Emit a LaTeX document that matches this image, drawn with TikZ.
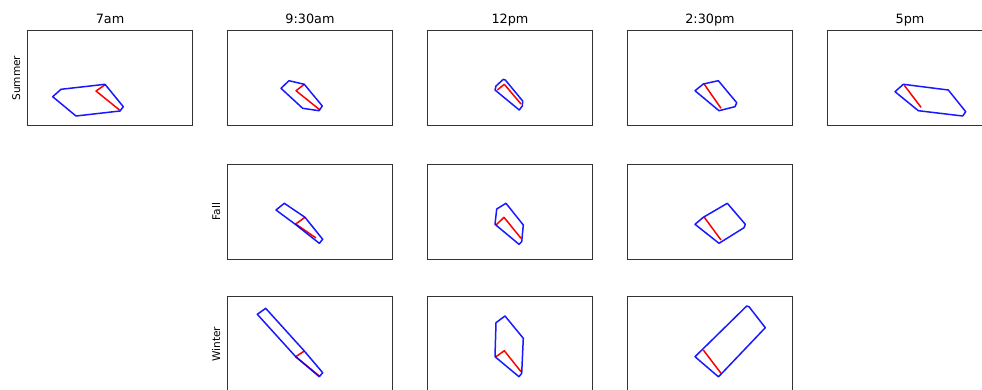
\documentclass[tikz,border=0pt]{standalone}
\usepackage{fontspec}
\setmainfont{DejaVu Sans}
\begin{document}
\begin{tikzpicture}[x=1pt,y=-1pt,
  frame/.style={draw=black!80,line width=0.8pt},
  shade/.style={draw=blue,line width=1.5pt,line join=round,opacity=0.9},
  bldg/.style={draw=red,line width=1.5pt,line join=round},
  ttl/.style={anchor=base,inner sep=0pt,font=\fontsize{12.8}{14}\selectfont},
  ylab/.style={anchor=base,rotate=90,inner sep=0pt,font=\fontsize{10.6}{12}\selectfont}]
\useasboundingbox (0,0) rectangle (982,389);
\clip (0,0) rectangle (982,389);
% frames
\foreach \c/\r in {27.3/30.7,227.3/30.7,427.3/30.7,627.3/30.7,827.3/30.7,
                   227.3/164.3,427.3/164.3,627.3/164.3,
                   227.3/296.7,427.3/296.7,627.3/296.7}
  \draw[frame] (\c,\r) rectangle ++(165.4,95);
% titles
\node[ttl] (t1) at (110,23) {7am};
\node[ttl] (t2) at (310,23) {9:30am};
\node[ttl] (t3) at (510,23) {12pm};
\node[ttl] (t4) at (710,23) {2:30pm};
\node[ttl] (t5) at (910,23) {5pm};
\node[ylab] (l1) at (20,78.2) {Summer};
\node[ylab] (l2) at (220,211.8) {Fall};
\node[ylab] (l3) at (220,344.2) {Winter};
% Summer 7am
\draw[bldg] (105,84.8) -- (96,91) -- (119.5,110);
\draw[shade] (52.7,96.7) -- (61,89.3) -- (105,84.3) -- (123.3,106.7) -- (120,111) -- (76,116) -- cycle;
% Summer 9:30am
\draw[bldg] (304.3,84.3) -- (296,90.7) -- (320,110);
\draw[shade] (281,88.3) -- (289,80.7) -- (304.3,84.3) -- (322.3,106) -- (319,110.7) -- (302.7,108.3) -- cycle;
% Summer 12pm
\draw[bldg] (497.3,90) -- (504.3,84.3) -- (521,104);
\draw[shade] (495,90) -- (496,86) -- (503.3,79.3) -- (505.3,80) -- (522.7,101) -- (522.3,106) -- (519.3,110) -- cycle;
% Summer 2:30pm
\draw[bldg] (704.3,84.3) -- (721,108.3);
\draw[shade] (695,90.7) -- (703.3,84) -- (718.3,80.7) -- (736.7,102.7) -- (735,106.7) -- (719,110.7) -- cycle;
% Summer 5pm
\draw[bldg] (904.3,85.3) -- (921,107.3);
\draw[shade] (895,91.7) -- (903.3,84.3) -- (948.3,90) -- (965.7,111.7) -- (962.7,116) -- (918.3,110.7) -- cycle;
% Fall 9:30am
\draw[bldg] (305,217.3) -- (295.7,224) -- (316,238);
\draw[shade] (276,210) -- (284.3,203.3) -- (305,217.3) -- (322.7,239.3) -- (319.3,243.3) -- (295.7,224.6) -- cycle;
% Fall 12pm
\draw[bldg] (496,225) -- (504,217.3) -- (521,238.3);
\draw[shade] (495,224.3) -- (496.7,209) -- (506,203.3) -- (523.3,225) -- (521.7,241.7) -- (519,244.3) -- cycle;
% Fall 2:30pm
\draw[bldg] (704.3,217.3) -- (721,240);
\draw[shade] (695,224.3) -- (703.3,217.3) -- (727.3,203.3) -- (745.3,224.3) -- (744,227.7) -- (719,243.3) -- cycle;
% Winter 9:30am
\draw[bldg] (304.3,351) -- (295.7,356.7) -- (319.3,376);
\draw[shade] (257.3,314.3) -- (265.7,308.3) -- (304.3,351) -- (322.7,372.7) -- (319.3,376.7) -- (295.7,356.7) -- cycle;
% Winter 12pm
\draw[bldg] (496,356.7) -- (504.3,350.7) -- (521,371.7);
\draw[shade] (496,322.7) -- (505,316) -- (523.3,338.3) -- (521.7,373.3) -- (519,376.7) -- (495,356.7) -- cycle;
% Winter 2:30pm
\draw[bldg] (703.3,350) -- (721,373.3);
\draw[shade] (695,356.7) -- (746.7,306) -- (749,306.7) -- (765.3,327.7) -- (719.3,376) -- (718.3,376.7) -- cycle;
\end{tikzpicture}
\end{document}
